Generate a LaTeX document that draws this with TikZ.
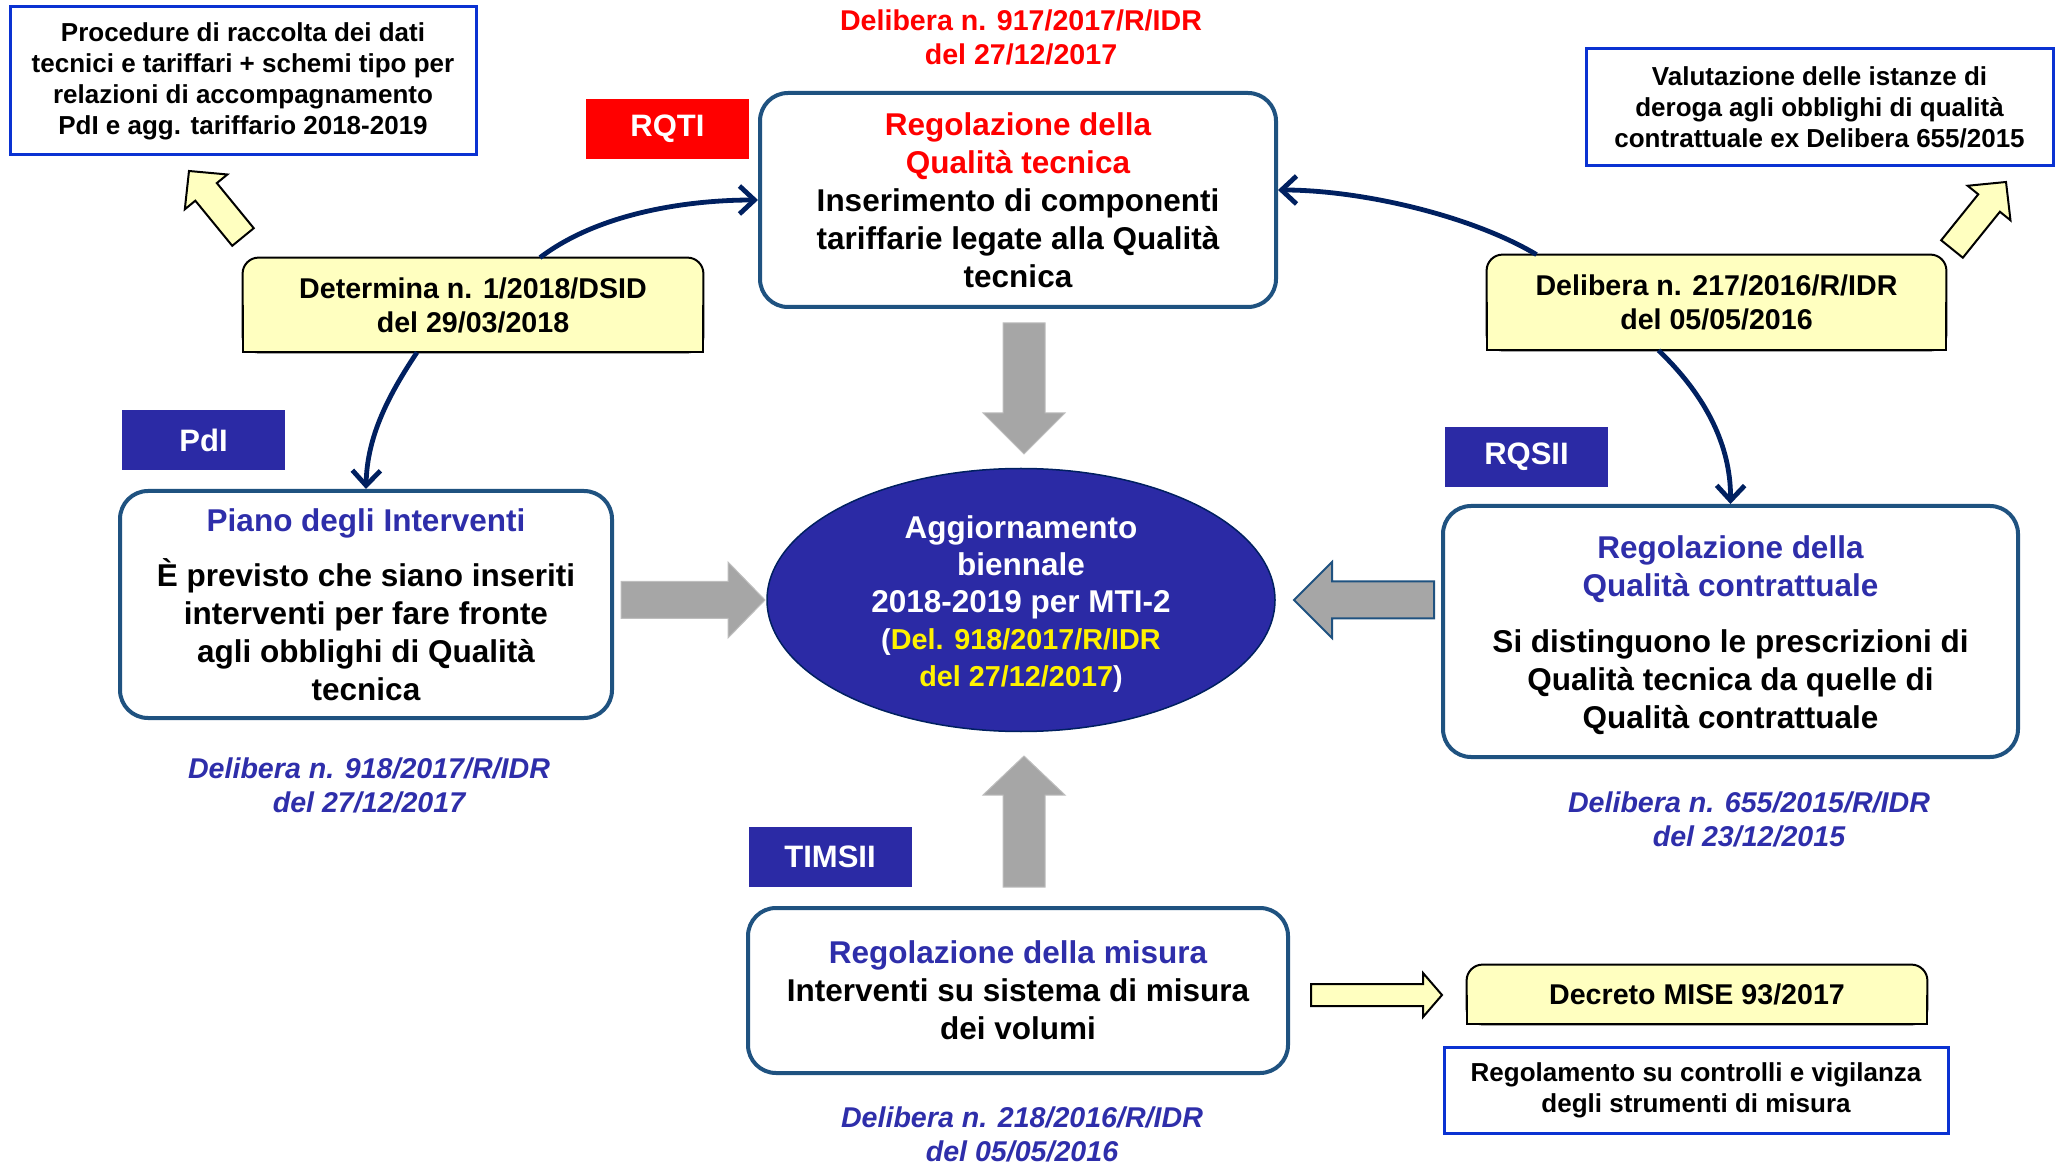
\documentclass[tikz,border=0pt]{standalone}
\usepackage{fontspec}
\setmainfont{Liberation Sans}
\usetikzlibrary{shapes.geometric,arrows.meta,calc,backgrounds}
\definecolor{navy}{RGB}{0,32,96}
\definecolor{boxc}{RGB}{31,82,128}
\definecolor{dblue}{RGB}{43,42,165}
\definecolor{tblue}{RGB}{46,46,170}
\definecolor{bbord}{RGB}{10,50,210}
\definecolor{yel}{RGB}{255,255,192}
\definecolor{gry}{RGB}{166,166,166}
\definecolor{gryline}{RGB}{190,190,190}
\newcommand\fsmall{\fontsize{13}{15.5}\selectfont\bfseries}
\newcommand\fdel{\fontsize{14.3}{17}\selectfont\bfseries}
\newcommand\fmain{\fontsize{15.75}{19}\selectfont\bfseries}
\newcommand\fell{\fontsize{15.75}{18.5}\selectfont\bfseries}
\newcommand\fellsm{\fontsize{14.4}{18.5}\selectfont\bfseries}
\newcommand\ftag{\fontsize{15.5}{18}\selectfont\bfseries}
% block arrow: style, tail, tip, half shaft, half head, head length
\newcommand\barrow[6]{%
 \coordinate (bat) at (#2);
 \coordinate (bah) at ($(#3)!#6!(#2)$);
 \path[#1] ($(bat)!#4!90:(bah)$) -- ($(bah)!#4!-90:(bat)$) -- ($(bah)!#5!-90:(bat)$) -- (#3) -- ($(bah)!#5!90:(bat)$) -- ($(bah)!#4!90:(bat)$) -- ($(bat)!#4!-90:(bah)$) -- cycle;}
% yellow box background, rounded on top only
\newcommand\ybg[1]{%
 \draw[fill=yel, draw=black, line width=1pt, rounded corners=8pt] (#1.south west) rectangle (#1.north east);
 \fill[yel] (#1.west) rectangle (#1.south east);
 \draw[black, line width=1pt] (#1.west) -- (#1.south west) -- (#1.south east) -- (#1.east);}
\begin{document}
\begin{tikzpicture}[x=0.5pt,y=-0.5pt,
  mainbox/.style={draw=boxc, line width=2pt, rounded corners=14pt, fill=white, align=center, inner sep=0pt, font=\fmain},
  bluebox/.style={draw=bbord, line width=1.5pt, fill=white, align=center, inner sep=0pt, font=\fsmall},
  ybox/.style={align=center, inner sep=0pt, font=\fdel},
  tagbox/.style={minimum width=81.5pt, minimum height=30pt, inner sep=0pt, text=white, font=\ftag},
  capt/.style={align=center, font=\fdel\itshape, text=tblue},
  conn/.style={draw=navy, line width=2.4pt, -{Straight Barb[length=7.5pt,width=14pt]}},
  garrow/.style={fill=gry, draw=gryline, line width=0.5pt},
  yarrow/.style={fill=yel, draw=black, line width=1pt}]
\useasboundingbox (0,0) rectangle (2056,1165);

% block arrows
\barrow{garrow}{1024,323}{1024,454}{10.5pt}{20.5pt}{20.5pt}
\barrow{garrow}{1024,887}{1024,756}{10.5pt}{20.5pt}{19.5pt}
\barrow{garrow}{621,600}{765,600}{9.25pt}{19pt}{18.5pt}
\barrow{fill=gry, draw=boxc, line width=1pt}{1434,600}{1294,600}{9.25pt}{19pt}{19pt}
\barrow{yarrow}{243,237}{189,171}{6.95pt}{13.75pt}{13.5pt}
\barrow{yarrow}{1952,249}{2006,182}{6.95pt}{13.75pt}{13.5pt}
\barrow{yarrow}{1311,995}{1442,995}{5.5pt}{11pt}{9.5pt}

% main boxes
\node[mainbox, minimum width=258pt, minimum height=107pt] (qt) at (1018,200)
 {\textcolor{red}{Regolazione della}\\\textcolor{red}{Qualità tecnica}\\Inserimento di componenti\\tariffarie legate alla Qualità\\tecnica};
\node[mainbox, minimum width=246pt, minimum height=113.5pt] (pdi) at (366,604.5)
 {\textcolor{tblue}{Piano degli Interventi}\\[8.5pt]È previsto che siano inseriti\\interventi per fare fronte\\agli obblighi di Qualità\\tecnica};
\node[mainbox, minimum width=287.5pt, minimum height=125.5pt] (qc) at (1730.5,631.5)
 {\rule{0pt}{15.5pt}\textcolor{tblue}{Regolazione della}\\\textcolor{tblue}{Qualità contrattuale}\\[9pt]Si distinguono le prescrizioni di\\Qualità tecnica da quelle di\\Qualità contrattuale};
\node[mainbox, minimum width=270pt, minimum height=82.5pt] (mis) at (1018,990.5)
 {\textcolor{tblue}{Regolazione della misura}\\Interventi su sistema di misura\\dei volumi};

% central ellipse
\node[ellipse, fill=dblue, draw=navy, line width=0.75pt, minimum width=254pt, minimum height=131.5pt, inner sep=0pt] (ell) at (1021,600) {};
\node[font=\fell, text=white, align=center, inner sep=0pt] (ellt) at (1021,604)
 {Aggiornamento\\biennale\\2018-2019 per MTI-2\\{\fellsm(\textcolor{yellow}{Del. 918/2017/R/IDR}}\\{\fellsm\textcolor{yellow}{del 27/12/2017})}};

% blue note boxes
\node[bluebox, minimum width=233pt, minimum height=74pt] (proc) at (243,81)
 {Procedure di raccolta dei dati\\tecnici e tariffari + schemi tipo per\\relazioni di accompagnamento\\PdI e agg. tariffario 2018-2019};
\node[bluebox, minimum width=233.5pt, minimum height=58.5pt] (val) at (1819.5,107.5)
 {Valutazione delle istanze di\\deroga agli obblighi di qualità\\contrattuale ex Delibera 655/2015};
\node[bluebox, minimum width=252pt, minimum height=43pt] (reg) at (1696,1090)
 {Regolamento su controlli e vigilanza\\degli strumenti di misura};

% yellow boxes
\node[ybox, minimum width=230pt, minimum height=47pt] (det) at (473,305) {Determina n. 1/2018/DSID\\del 29/03/2018};
\node[ybox, minimum width=229.5pt, minimum height=47.5pt] (d217) at (1716.5,302.5) {Delibera n. 217/2016/R/IDR\\del 05/05/2016};
\node[ybox, minimum width=230pt, minimum height=29.5pt] (dec) at (1697,994.5) {Decreto MISE 93/2017};
\begin{scope}[on background layer]
 \ybg{det}
 \ybg{d217}
 \ybg{dec}
\end{scope}

% tags
\node[tagbox, fill=red] (rqti) at (667.5,129) {RQTI};
\node[tagbox, fill=dblue] (pdl) at (203.5,440) {PdI};
\node[tagbox, fill=dblue] (rqsii) at (1526.5,457) {RQSII};
\node[tagbox, fill=dblue] (timsii) at (830,857) {TIMSII};

% captions
\node[align=center, font=\fdel, text=red] (d917) at (1021,37) {Delibera n. 917/2017/R/IDR\\del 27/12/2017};
\node[capt] (c918) at (369,785.5) {Delibera n. 918/2017/R/IDR\\del 27/12/2017};
\node[capt] (c655) at (1749,819) {Delibera n. 655/2015/R/IDR\\del 23/12/2015};
\node[capt] (c218) at (1022,1134.5) {Delibera n. 218/2016/R/IDR\\del 05/05/2016};

% curved connectors
\draw[conn] ([xshift=33.5pt]det.north) .. controls (600,212) and (690,200) .. (qt.west);
\draw[conn] ([xshift=-28pt]det.south) .. controls (385,400) and (367,440) .. (pdi.north);
\draw[conn] ([xshift=-90pt]d217.north) .. controls (1470,215) and (1360,190) .. ([yshift=5pt]qt.east);
\draw[conn] ([xshift=-29pt]d217.south) .. controls (1700,390) and (1731,440) .. (qc.north);
\end{tikzpicture}
\end{document}
